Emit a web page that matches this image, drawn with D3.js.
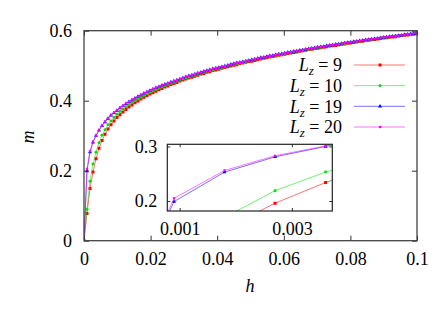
<!DOCTYPE html>
<html><head><meta charset="utf-8">
<script src="https://cdn.jsdelivr.net/npm/d3@7"></script>
<style>
html,body{margin:0;padding:0;background:#fff;}
</style></head>
<body><svg id="c" width="436" height="312" font-family="Liberation Serif"></svg>
<script>
const h = [0,.0009,.0018,.0027,.0036,.0045,.0054,.0063,.0072,.0081,
.009,.0099,.0108,.0117,.0126,.0135,.0144,.0153,.0162,.0171,
.018,.0189,.0198,.0207,.0216,.0225,.0234,.0243,.0252,.0261,
.027,.0279,.0288,.0297,.0306,.0315,.0324,.0333,.0342,.0351,
.036,.0369,.0378,.0387,.0396,.0405,.0414,.0423,.0432,.0441,
.045,.0459,.0468,.0477,.0486,.0495,.0504,.0513,.0522,.0531,
.054,.0549,.0558,.0567,.0576,.0585,.0594,.0603,.0612,.0621,
.063,.0639,.0648,.0657,.0666,.0675,.0684,.0693,.0702,.0711,
.072,.0729,.0738,.0747,.0756,.0765,.0774,.0783,.0792,.0801,
.081,.0819,.0828,.0837,.0846,.0855,.0864,.0873,.0882,.0891,
.09,.0909,.0918,.0927,.0936,.0945,.0954,.0963,.0972,.0981,
.099,.0999];

const mLz9 = [0,.078,.149,.196,.234,.264,.286,.304,.319,.331,
.342,.352,.360,.368,.375,.382,.388,.394,.399,.405,
.410,.414,.419,.423,.427,.431,.435,.439,.442,.446,
.449,.452,.456,.459,.462,.465,.467,.470,.473,.476,
.478,.481,.483,.486,.488,.490,.493,.495,.497,.499,
.501,.503,.506,.508,.510,.512,.513,.515,.517,.519,
.521,.523,.525,.526,.528,.530,.531,.533,.535,.536,
.538,.539,.541,.543,.544,.546,.547,.549,.550,.551,
.553,.554,.556,.557,.558,.560,.561,.562,.564,.565,
.566,.568,.569,.570,.572,.573,.574,.575,.576,.578,
.579,.580,.581,.582,.583,.585,.586,.587,.588,.589,
.590,.591];

const mLz10 = [0,.090,.170,.219,.253,.280,.301,.317,.331,.342,
.352,.361,.369,.376,.383,.389,.395,.400,.405,.410,
.415,.420,.424,.428,.432,.436,.439,.443,.446,.450,
.453,.456,.459,.462,.465,.468,.471,.473,.476,.479,
.481,.484,.486,.488,.491,.493,.495,.497,.500,.502,
.504,.506,.508,.510,.512,.514,.516,.518,.519,.521,
.523,.525,.526,.528,.530,.532,.533,.535,.536,.538,
.540,.541,.543,.544,.546,.547,.549,.550,.552,.553,
.554,.556,.557,.559,.560,.561,.563,.564,.565,.567,
.568,.569,.570,.572,.573,.574,.575,.577,.578,.579,
.580,.581,.582,.584,.585,.586,.587,.588,.589,.590,
.591,.592];

const mLz19 = [0,.199,.253,.281,.300,.315,.328,.339,.349,.358,
.365,.372,.379,.385,.391,.397,.402,.407,.412,.416,
.421,.425,.429,.433,.437,.440,.444,.447,.450,.453,
.456,.459,.462,.465,.468,.471,.473,.476,.479,.481,
.484,.486,.488,.491,.493,.495,.497,.499,.501,.504,
.506,.508,.510,.511,.513,.515,.517,.519,.521,.523,
.524,.526,.528,.529,.531,.533,.534,.536,.538,.539,
.541,.542,.544,.545,.547,.548,.550,.551,.553,.554,
.555,.557,.558,.559,.561,.562,.563,.565,.566,.567,
.569,.570,.571,.572,.574,.575,.576,.577,.578,.580,
.581,.582,.583,.584,.585,.586,.587,.589,.590,.591,
.592,.593];

const mLz20 = [0,.205,.256,.283,.301,.317,.329,.340,.350,.359,
.366,.373,.380,.386,.392,.397,.403,.407,.412,.417,
.421,.425,.429,.433,.437,.440,.444,.447,.450,.453,
.456,.459,.462,.465,.468,.471,.473,.476,.479,.481,
.484,.486,.488,.491,.493,.495,.497,.499,.501,.504,
.506,.508,.510,.511,.513,.515,.517,.519,.521,.523,
.524,.526,.528,.529,.531,.533,.534,.536,.538,.539,
.541,.542,.544,.545,.547,.548,.550,.551,.553,.554,
.555,.557,.558,.559,.561,.562,.563,.565,.566,.567,
.569,.570,.571,.572,.574,.575,.576,.577,.578,.580,
.581,.582,.583,.584,.585,.586,.587,.589,.590,.591,
.592,.593];

const seriesNames = ["9","10","19","20"];
const seriesValues = [mLz9, mLz10, mLz19, mLz20];
const colors = ["#ff0000","#00e000","#0000ff","#ff00ff"];
const xTicks = [0,0.02,0.04,0.06,0.08,0.1];
const yTicks = [0,0.2,0.4,0.6];
const insetXTicks = [0.001,0.003];
const insetYTicks = [0.2,0.3];

const FONT = "Liberation Serif";
const svg = d3.select("#c");
const x = d3.scaleLinear([0,0.1],[84,417]);
const y = d3.scaleLinear([0,0.6],[240.7,30.7]);

const symTypes = [d3.symbolSquare, d3.symbolCircle, d3.symbolTriangle, d3.symbolSquare];
const symSizes = [9, 7, 7, 5];

function drawSeries(g, xs, ys, clipId){
  const gg = g.append("g").attr("clip-path", `url(#${clipId})`);
  seriesValues.forEach((vals, i) => {
    const pts = h.map((hv, k) => [hv, vals[k]]);
    gg.append("path").datum(pts)
      .attr("fill","none").attr("stroke",colors[i]).attr("stroke-width",1).attr("stroke-opacity",0.55)
      .attr("d", d3.line().x(d=>xs(d[0])).y(d=>ys(d[1])));
    gg.selectAll(null).data(pts).enter().append("path")
      .attr("transform", d=>`translate(${xs(d[0])},${ys(d[1])})`)
      .attr("d", d3.symbol(symTypes[i], symSizes[i]))
      .attr("fill", colors[i]);
  });
}

const defs = svg.append("defs");
defs.append("clipPath").attr("id","clipMain").append("rect")
  .attr("x",84).attr("y",30.7).attr("width",333).attr("height",210);
drawSeries(svg.append("g"), x, y, "clipMain");

const fs = 18;
function styleAxis(g){
  g.attr("font-family", FONT).attr("font-size", fs);
  g.select(".domain").remove();
  g.selectAll(".tick line").attr("stroke","#333").attr("stroke-width",1);
  g.selectAll("text").attr("font-size",fs).attr("font-family",FONT).attr("fill","#000");
}
const fmt = d => d===0 ? "0" : String(d);
svg.append("g").attr("transform","translate(0,240.7)")
  .call(d3.axisBottom(x).tickValues(xTicks).tickSize(-5).tickPadding(12).tickFormat(fmt)).call(styleAxis);
svg.append("g").attr("transform","translate(0,30.7)")
  .call(d3.axisTop(x).tickValues(xTicks).tickSize(-5).tickFormat("")).call(styleAxis);
svg.append("g").attr("transform","translate(84,0)")
  .call(d3.axisLeft(y).tickValues(yTicks).tickSize(-5).tickPadding(12).tickFormat(fmt)).call(styleAxis);
svg.append("g").attr("transform","translate(417,0)")
  .call(d3.axisRight(y).tickValues(yTicks).tickSize(-5).tickFormat("")).call(styleAxis);
svg.append("rect").attr("x",84).attr("y",30.7).attr("width",333).attr("height",210)
  .attr("fill","none").attr("stroke","#444").attr("stroke-width",1.3);

svg.append("text").attr("transform","translate(34,137) rotate(-90)").attr("font-family",FONT)
  .attr("text-anchor","middle").attr("font-size",fs).attr("font-style","italic").text("m");
svg.append("text").attr("x",250).attr("y",292).attr("font-family",FONT)
  .attr("text-anchor","middle").attr("font-size",fs).attr("font-style","italic").text("h");

const legY = [65, 85.7, 106.3, 127];
seriesNames.forEach((nm,i) => {
  const t = svg.append("text").attr("x",342).attr("y",legY[i]).attr("dy","0.35em").attr("font-family",FONT)
    .attr("text-anchor","end").attr("font-size",fs);
  t.append("tspan").attr("font-style","italic").text("L");
  t.append("tspan").attr("font-style","italic").attr("font-size",fs*0.72).attr("dy",4).text("z");
  t.append("tspan").attr("dy",-4).text(" = " + nm);
  svg.append("line").attr("x1",354).attr("x2",405).attr("y1",legY[i]).attr("y2",legY[i])
    .attr("stroke",colors[i]).attr("stroke-width",1).attr("stroke-opacity",0.55);
  svg.append("path").attr("transform",`translate(380,${legY[i]})`)
    .attr("d", d3.symbol(symTypes[i], symSizes[i])).attr("fill",colors[i]);
});

const ix = d3.scaleLinear([0.00078,0.00372],[167.3,332.3]);
const iy = d3.scaleLinear([0.1817,0.304],[211,144.3]);
svg.append("rect").attr("x",167.3).attr("y",144.3).attr("width",165).attr("height",66.7).attr("fill","#fff");
defs.append("clipPath").attr("id","clipInset").append("rect")
  .attr("x",167.3).attr("y",144.3).attr("width",165).attr("height",66.7);
drawSeries(svg.append("g"), ix, iy, "clipInset");
const ifmt = d => String(d);
svg.append("g").attr("transform","translate(0,211)")
  .call(d3.axisBottom(ix).tickValues(insetXTicks).tickSize(-3).tickPadding(11).tickFormat(ifmt)).call(styleAxis);
svg.append("g").attr("transform","translate(0,144.3)")
  .call(d3.axisTop(ix).tickValues(insetXTicks).tickSize(-3).tickFormat("")).call(styleAxis);
svg.append("g").attr("transform","translate(167.3,0)")
  .call(d3.axisLeft(iy).tickValues(insetYTicks).tickSize(-3).tickPadding(10).tickFormat(ifmt)).call(styleAxis);
svg.append("g").attr("transform","translate(332.3,0)")
  .call(d3.axisRight(iy).tickValues(insetYTicks).tickSize(-3).tickFormat("")).call(styleAxis);
svg.append("rect").attr("x",167.3).attr("y",144.3).attr("width",165).attr("height",66.7)
  .attr("fill","none").attr("stroke","#222").attr("stroke-width",1.2);
</script></body></html>
